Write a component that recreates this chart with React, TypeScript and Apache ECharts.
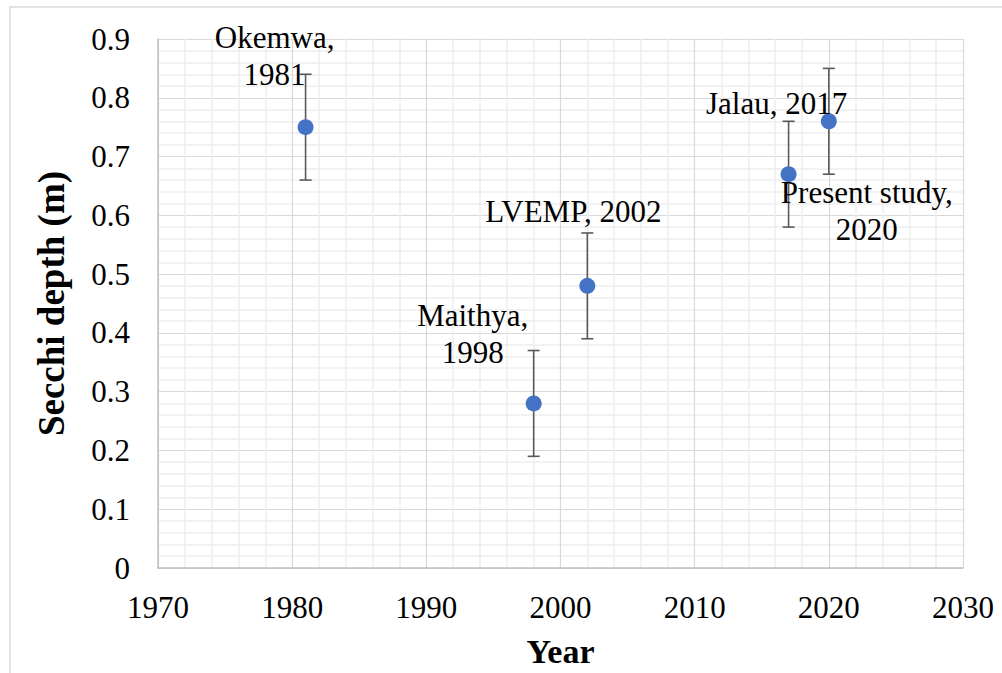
import React, { useEffect, useRef } from "react";
import * as echarts from "echarts";

const years = [1981, 1998, 2002, 2017, 2020];
const depths = [0.75, 0.28, 0.48, 0.67, 0.76];
const errors = [0.09, 0.09, 0.09, 0.09, 0.09];
const labels = ["Okemwa,\n1981", "Maithya,\n1998", "LVEMP, 2002", "Jalau, 2017", "Present study,\n2020"];
const labelOffsets: [number, number][] = [
  [-31, -71],
  [-61, -69],
  [-14, -74],
  [-12, -71],
  [38, 90],
];
const xTicks = { min: 1970, max: 2030, interval: 10 };
const yTicks = { min: 0, max: 0.9, interval: 0.1 };

const FONT = "Liberation Serif";

export default function App() {
  const ref = useRef<HTMLDivElement>(null);
  useEffect(() => {
    if (!ref.current) return;
    const chart = echarts.init(ref.current, undefined, { renderer: "svg" });
    const errData = years.map((y, i) => [y, depths[i] - errors[i], depths[i] + errors[i]]);
    const scatterData = years.map((y, i) => ({
      value: [y, depths[i]],
      label: {
        show: true,
        formatter: labels[i],
        position: "inside",
        offset: labelOffsets[i],
        color: "#000",
        fontFamily: FONT,
        fontSize: 31,
        lineHeight: 37,
        align: "center",
        verticalAlign: "middle",
      },
    }));
    chart.setOption({
      animation: false,
      backgroundColor: "#fff",
      textStyle: { fontFamily: FONT },
      graphic: [
        {
          type: "rect",
          shape: { x: 10, y: 7, width: 1010, height: 700 },
          style: { fill: "none", stroke: "#d9d9d9", lineWidth: 1.5 },
          silent: true,
          z: -10,
        },
      ],
      grid: { left: 158, top: 39, right: 39, bottom: 101, containLabel: false },
      xAxis: {
        type: "value",
        min: xTicks.min,
        max: xTicks.max,
        interval: xTicks.interval,
        name: "Year",
        nameLocation: "middle",
        nameGap: 66,
        nameTextStyle: { fontFamily: FONT, fontSize: 34, fontWeight: "bold", color: "#000" },
        axisLine: { show: true, lineStyle: { color: "#bfbfbf", width: 1.5 } },
        axisTick: { show: false },
        axisLabel: {
          fontFamily: FONT,
          fontSize: 31,
          color: "#000",
          margin: 24,
          formatter: (v: number) => String(v),
        },
        splitLine: { show: true, lineStyle: { color: "#d9d9d9", width: 1.2 } },
        minorTick: { show: false, splitNumber: 5 },
        minorSplitLine: { show: true, lineStyle: { color: "#eeeeee", width: 1.5 } },
      },
      yAxis: {
        type: "value",
        min: yTicks.min,
        max: yTicks.max,
        interval: yTicks.interval,
        name: "Secchi depth (m)",
        nameLocation: "middle",
        nameGap: 88,
        nameRotate: 90,
        nameTextStyle: { fontFamily: FONT, fontSize: 37, fontWeight: "bold", color: "#000" },
        axisLine: { show: true, lineStyle: { color: "#bfbfbf", width: 1.5 } },
        axisTick: { show: false },
        axisLabel: {
          fontFamily: FONT,
          fontSize: 31,
          color: "#000",
          margin: 28,
          formatter: (v: number) => (v === 0 ? "0" : v.toFixed(1)),
        },
        splitLine: { show: true, lineStyle: { color: "#d9d9d9", width: 1.2 } },
        minorTick: { show: false, splitNumber: 5 },
        minorSplitLine: { show: true, lineStyle: { color: "#eeeeee", width: 1.5 } },
      },
      series: [
        {
          type: "custom",
          data: errData,
          z: 2,
          silent: true,
          renderItem: (params: any, api: any) => {
            const x = api.value(0);
            const lo = api.coord([x, api.value(1)]);
            const hi = api.coord([x, api.value(2)]);
            const cap = 6;
            const style = { stroke: "#595959", lineWidth: 1.6, fill: "none" };
            return {
              type: "group",
              children: [
                { type: "line", shape: { x1: lo[0], y1: lo[1], x2: hi[0], y2: hi[1] }, style },
                { type: "line", shape: { x1: hi[0] - cap, y1: hi[1], x2: hi[0] + cap, y2: hi[1] }, style },
                { type: "line", shape: { x1: lo[0] - cap, y1: lo[1], x2: lo[0] + cap, y2: lo[1] }, style },
              ],
            };
          },
        },
        {
          type: "scatter",
          data: scatterData,
          symbol: "circle",
          symbolSize: 16,
          itemStyle: { color: "#4472C4", opacity: 1 },
          z: 3,
        },
      ],
    });
    return () => chart.dispose();
  }, []);
  return (
    <div
      ref={ref}
      style={{ position: "fixed", left: 0, top: 0, width: 1002, height: 673 }}
    />
  );
}
